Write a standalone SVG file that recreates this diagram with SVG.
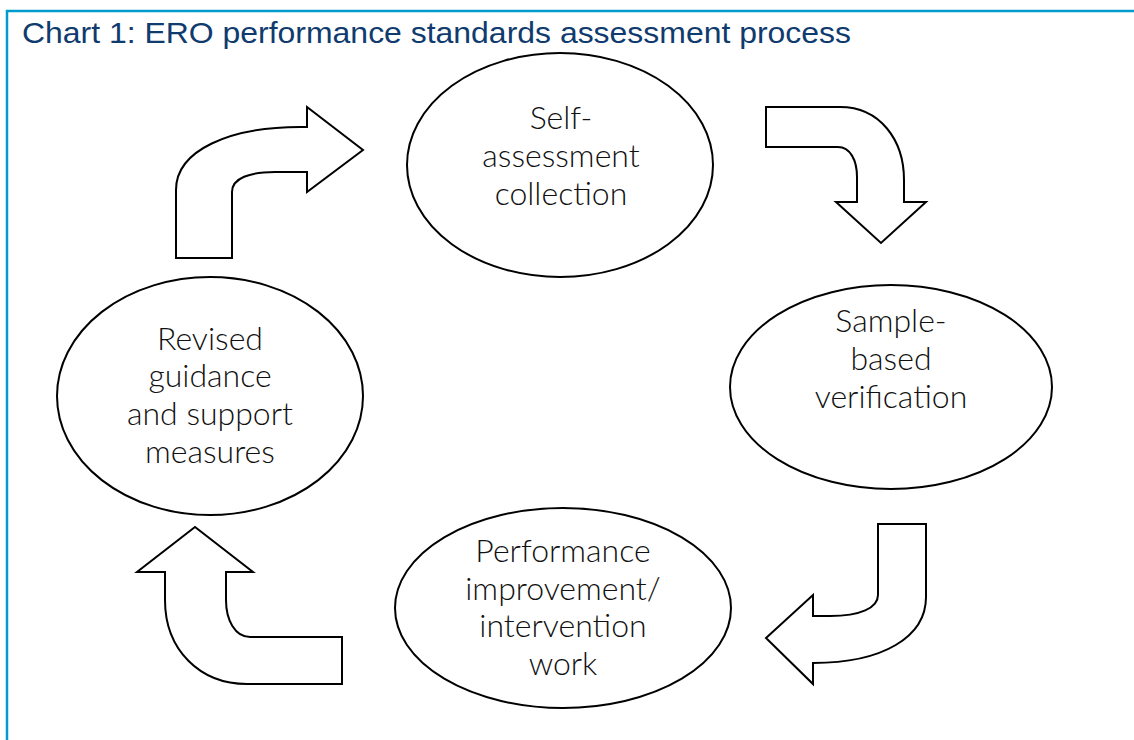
<svg xmlns="http://www.w3.org/2000/svg" width="1134" height="740" viewBox="0 0 1134 740">
  <style>
    .frame { stroke: #009ACD; stroke-width: 2.5; fill: none; }
    .title { font-family: "Liberation Sans", Arial, sans-serif; font-size: 29px; fill: #0F3B6E; }
    .node ellipse { fill: #FFFFFF; stroke: #000000; stroke-width: 2; }
    .label { font-family: Lato, "Liberation Sans", Arial, sans-serif; font-weight: 300; font-size: 32px; fill: #111111; text-anchor: middle; }
    .arrow { fill: #FFFFFF; stroke: #000000; stroke-width: 2; stroke-linejoin: miter; }
  </style>

  <rect width="1134" height="740" fill="#FFFFFF"/>

  <!-- chart frame: top and left rules -->
  <path class="frame" d="M7,740 L7,11 L1134,11"/>

  <text class="title" x="22" y="43" textLength="829" lengthAdjust="spacingAndGlyphs">Chart 1: ERO performance standards assessment process</text>

  <!-- curved block arrows between the stages -->
  <g id="connectors">
    <path id="arrow-revised-to-self" class="arrow" d="M176,258 L176,190 C176,150 230,127 300,127 L307,127 L307,107 L363,150 L307,192 L307,172 L275,172 C250,172 232,178 232,192 L232,258 Z"/>
    <path id="arrow-self-to-sample" class="arrow" d="M766,107 L840,107 C880,107 904,140 904,180 L904,202 L926,202 L881,243 L836,202 L857,202 L857,177 C857,160 850,147 838,147 L766,147 Z"/>
    <path id="arrow-sample-to-performance" class="arrow" d="M878,524 L926,524 L926,597 C926,637 883,663 813,663 L813,684 L766,638 L813,595 L813,616 L830,616 C860,616 878,608 878,595 Z"/>
    <path id="arrow-performance-to-revised" class="arrow" d="M342,684 L247,684 C200,684 165,650 165,600 L165,572 L137,572 L195,527 L253,572 L226,572 L226,600 C226,620 235,637 250,637 L342,637 Z"/>
  </g>

  <g id="node-self-assessment" class="node">
    <ellipse cx="560" cy="165" rx="153" ry="112"/>
    <text class="label" x="561" y="129">Self-</text>
    <text class="label" x="561" y="167">assessment</text>
    <text class="label" x="561" y="205">collection</text>
  </g>

  <g id="node-sample-verification" class="node">
    <ellipse cx="891" cy="387" rx="161" ry="102"/>
    <text class="label" x="891" y="332">Sample-</text>
    <text class="label" x="891" y="370">based</text>
    <text class="label" x="891" y="408">verification</text>
  </g>

  <g id="node-performance-improvement" class="node">
    <ellipse cx="563" cy="608" rx="168" ry="100"/>
    <text class="label" x="563" y="562">Performance</text>
    <text class="label" x="563" y="600">improvement/</text>
    <text class="label" x="563" y="637">intervention</text>
    <text class="label" x="563" y="675">work</text>
  </g>

  <g id="node-revised-guidance" class="node">
    <ellipse cx="210" cy="396" rx="153" ry="119"/>
    <text class="label" x="210" y="350">Revised</text>
    <text class="label" x="210" y="387">guidance</text>
    <text class="label" x="210" y="425">and support</text>
    <text class="label" x="210" y="463">measures</text>
  </g>
</svg>
